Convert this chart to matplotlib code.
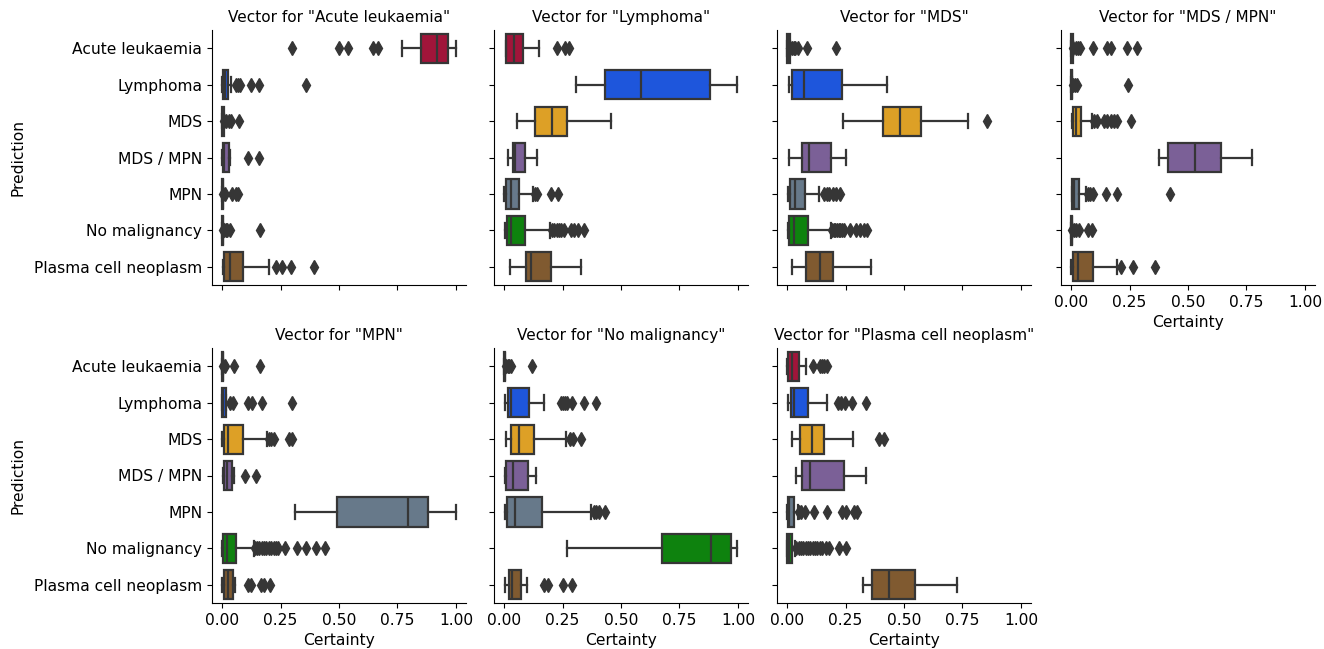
import matplotlib
matplotlib.use("Agg")
import matplotlib.pyplot as plt

categories = ["Acute leukaemia", "Lymphoma", "MDS", "MDS / MPN", "MPN",
              "No malignancy", "Plasma cell neoplasm"]
colors = ["#A0153A", "#1E56DC", "#DDA026", "#7B6097", "#67798A", "#0E820E", "#805A30"]

# box stats per panel: [whisker low, q1, median, q3, whisker high] for each prediction
acute_stats = [[0.77, 0.85, 0.92, 0.965, 1.0],
               [0.0, 0.004, 0.012, 0.026, 0.04],
               [0.0, 0.0, 0.003, 0.008, 0.008],
               [0.0, 0.004, 0.01, 0.029, 0.033],
               [0.0, 0.0, 0.002, 0.006, 0.006],
               [0.0, 0.0, 0.002, 0.005, 0.005],
               [0.004, 0.01, 0.033, 0.09, 0.2]]
acute_fliers = [[0.30, 0.50, 0.54, 0.645, 0.665],
                [0.06, 0.068, 0.078, 0.124, 0.156, 0.36],
                [0.01, 0.018, 0.028, 0.04, 0.074],
                [0.112, 0.156],
                [0.004, 0.012, 0.043, 0.058, 0.068],
                [0.004, 0.01, 0.016, 0.022, 0.032, 0.162],
                [0.232, 0.256, 0.296, 0.394]]

lymph_stats = [[0.007, 0.01, 0.043, 0.079, 0.151],
               [0.306, 0.433, 0.584, 0.881, 0.996],
               [0.055, 0.134, 0.206, 0.269, 0.456],
               [0.017, 0.04, 0.045, 0.091, 0.142],
               [0.001, 0.01, 0.029, 0.066, 0.122],
               [0.004, 0.012, 0.029, 0.089, 0.197],
               [0.027, 0.094, 0.117, 0.201, 0.331]]
lymph_fliers = [[0.226, 0.262, 0.276],
                [],
                [],
                [],
                [0.134, 0.142, 0.2, 0.232],
                [0.205, 0.215, 0.225, 0.235, 0.245, 0.258, 0.285, 0.298, 0.315, 0.34],
                []]

mds_stats = [[0.0, 0.0, 0.003, 0.012, 0.012],
             [0.007, 0.023, 0.072, 0.234, 0.426],
             [0.24, 0.412, 0.481, 0.572, 0.772],
             [0.01, 0.063, 0.092, 0.187, 0.252],
             [0.003, 0.014, 0.036, 0.077, 0.136],
             [0.003, 0.01, 0.029, 0.088, 0.187],
             [0.023, 0.083, 0.141, 0.197, 0.359]]
mds_fliers = [[0.012, 0.02, 0.028, 0.036, 0.048, 0.085, 0.209],
              [],
              [0.854],
              [],
              [0.16, 0.17, 0.18, 0.195, 0.21, 0.228],
              [0.194, 0.2, 0.206, 0.212, 0.22, 0.228, 0.236, 0.244, 0.268, 0.296, 0.31, 0.33, 0.343],
              []]

mdsmpn_stats = [[0.0, 0.0, 0.002, 0.007, 0.007],
                [0.0, 0.0, 0.002, 0.006, 0.006],
                [0.004, 0.007, 0.019, 0.043, 0.091],
                [0.378, 0.416, 0.532, 0.64, 0.773],
                [0.003, 0.004, 0.012, 0.033, 0.062],
                [0.0, 0.0, 0.002, 0.005, 0.005],
                [0.0, 0.007, 0.029, 0.094, 0.197]]
mdsmpn_fliers = [[0.01, 0.02, 0.03, 0.04, 0.094, 0.155, 0.17, 0.24, 0.283],
                 [0.008, 0.016, 0.026, 0.243],
                 [0.1, 0.11, 0.14, 0.155, 0.17, 0.185, 0.197, 0.255],
                 [],
                 [0.072, 0.082, 0.094, 0.148, 0.196, 0.424],
                 [0.004, 0.012, 0.022, 0.036, 0.074, 0.091],
                 [0.213, 0.263, 0.357]]

mpn_stats = [[0.0, 0.0, 0.002, 0.004, 0.004],
             [0.0, 0.0, 0.005, 0.017, 0.017],
             [0.001, 0.01, 0.024, 0.089, 0.193],
             [0.004, 0.007, 0.019, 0.043, 0.05],
             [0.31, 0.49, 0.797, 0.879, 1.0],
             [0.001, 0.004, 0.021, 0.06, 0.135],
             [0.001, 0.007, 0.026, 0.046, 0.057]]
mpn_fliers = [[0.006, 0.014, 0.05, 0.161],
              [0.036, 0.047, 0.112, 0.126, 0.17, 0.30],
              [0.2, 0.21, 0.221, 0.288, 0.30],
              [0.1, 0.143],
              [],
              [0.14, 0.15, 0.16, 0.17, 0.18, 0.19, 0.2, 0.21, 0.22, 0.23, 0.24, 0.27, 0.32, 0.36, 0.40, 0.44],
              [0.11, 0.125, 0.165, 0.18, 0.205]]

nomal_stats = [[0.0, 0.0, 0.002, 0.006, 0.006],
               [0.004, 0.017, 0.029, 0.107, 0.169],
               [0.007, 0.031, 0.064, 0.129, 0.264],
               [0.004, 0.01, 0.04, 0.103, 0.136],
               [0.003, 0.014, 0.047, 0.161, 0.37],
               [0.267, 0.676, 0.886, 0.971, 0.997],
               [0.004, 0.021, 0.036, 0.074, 0.097]]
nomal_fliers = [[0.008, 0.015, 0.022, 0.029, 0.121],
                [0.243, 0.253, 0.261, 0.271, 0.29, 0.343, 0.393],
                [0.281, 0.293, 0.329],
                [],
                [0.385, 0.395, 0.405, 0.43],
                [],
                [0.171, 0.186, 0.254, 0.29]]

plasma_stats = [[0.0, 0.003, 0.02, 0.05, 0.08],
                [0.003, 0.017, 0.031, 0.09, 0.17],
                [0.021, 0.056, 0.105, 0.16, 0.282],
                [0.039, 0.063, 0.099, 0.243, 0.336],
                [0.0, 0.003, 0.01, 0.029, 0.046],
                [0.0, 0.0, 0.01, 0.021, 0.035],
                [0.325, 0.365, 0.435, 0.545, 0.725]]
plasma_fliers = [[0.11, 0.14, 0.15, 0.16, 0.17],
                 [0.217, 0.231, 0.246, 0.279, 0.339],
                 [0.395, 0.415],
                 [],
                 [0.05, 0.06, 0.075, 0.115, 0.17, 0.235, 0.25, 0.285, 0.298],
                 [0.04, 0.05, 0.06, 0.07, 0.08, 0.09, 0.1, 0.11, 0.12, 0.13, 0.14, 0.15, 0.165, 0.18, 0.22, 0.25],
                 []]

panels = [("Acute leukaemia", acute_stats, acute_fliers),
          ("Lymphoma", lymph_stats, lymph_fliers),
          ("MDS", mds_stats, mds_fliers),
          ("MDS / MPN", mdsmpn_stats, mdsmpn_fliers),
          ("MPN", mpn_stats, mpn_fliers),
          ("No malignancy", nomal_stats, nomal_fliers),
          ("Plasma cell neoplasm", plasma_stats, plasma_fliers)]

fig = plt.figure(figsize=(13.24, 6.49), dpi=100)
W, H = 1324, 649
lefts = [212, 494, 777, 1061]
tops = [30, 348]
aw, ah = 254, 255
line_gray = "#363636"

for i, (name, stats, fliers) in enumerate(panels):
    row, col = divmod(i, 4)
    ax = fig.add_axes([lefts[col] / W, 1 - (tops[row] + ah) / H, aw / W, ah / H])
    bstats = []
    for cat, s, f in zip(categories, stats, fliers):
        bstats.append({"whislo": s[0], "q1": s[1], "med": s[2], "q3": s[3],
                       "whishi": s[4], "fliers": f, "label": cat})
    bp = ax.bxp(bstats, positions=range(len(categories)), widths=0.8,
                orientation="horizontal", patch_artist=True,
                boxprops=dict(edgecolor=line_gray, linewidth=1.6),
                medianprops=dict(color=line_gray, linewidth=1.6),
                whiskerprops=dict(color=line_gray, linewidth=1.6),
                capprops=dict(color=line_gray, linewidth=1.6),
                flierprops=dict(marker="d", markerfacecolor=line_gray,
                                markeredgecolor=line_gray, markersize=7))
    for patch, c in zip(bp["boxes"], colors):
        patch.set_facecolor(c)
    ax.set_xlim(-0.043, 1.043)
    ax.set_ylim(6.5, -0.5)
    ax.set_xticks([0, 0.25, 0.5, 0.75, 1.0])
    ax.set_yticks(range(len(categories)))
    ax.spines["top"].set_visible(False)
    ax.spines["right"].set_visible(False)
    ax.tick_params(labelsize=11.2)
    ax.set_title(f'Vector for "{name}"', fontsize=11)
    if col == 0:
        ax.set_yticklabels(categories)
        ax.set_ylabel("Prediction", fontsize=11.2, labelpad=6)
    else:
        ax.set_yticklabels([])
    if row == 1 or col == 3:
        ax.set_xticklabels(["0.00", "0.25", "0.50", "0.75", "1.00"])
        ax.set_xlabel("Certainty", fontsize=11.2)
    else:
        ax.set_xticklabels([])

fig.savefig("out.png", dpi=100)
